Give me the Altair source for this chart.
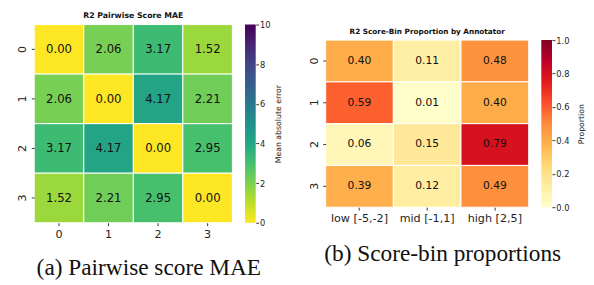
import altair as alt
import pandas as pd

annotators = ["0", "1", "2", "3"]
mae_values = [
    [0.00, 2.06, 3.17, 1.52],
    [2.06, 0.00, 4.17, 2.21],
    [3.17, 4.17, 0.00, 2.95],
    [1.52, 2.21, 2.95, 0.00],
]
bins = ["low [-5,-2]", "mid [-1,1]", "high [2,5]"]
prop_values = [
    [0.40, 0.11, 0.48],
    [0.59, 0.01, 0.40],
    [0.06, 0.15, 0.79],
    [0.39, 0.12, 0.49],
]
mae_ticks = [0, 2, 4, 6, 8, 10]
prop_ticks = [0.0, 0.2, 0.4, 0.6, 0.8, 1.0]
mae_range = [0, 10]
prop_range = [0, 1]

# colormap stops (matplotlib viridis / YlOrRd), low value -> high value
viridis_r = ["#fde725", "#bddf26", "#7ad151", "#44bf70", "#22a884", "#21918c",
             "#2a788e", "#355f8d", "#414487", "#482475", "#440154"]
ylorrd = ["#ffffcc", "#ffeda0", "#fed976", "#feb24c", "#fd8d3c", "#fc4e2a",
          "#e31a1c", "#bd0026", "#800026"]

mae_df = pd.DataFrame(
    [{"row": annotators[i], "col": annotators[j], "mae": mae_values[i][j]}
     for i in range(len(annotators)) for j in range(len(annotators))]
)
prop_df = pd.DataFrame(
    [{"row": annotators[i], "col": bins[j], "prop": prop_values[i][j]}
     for i in range(len(annotators)) for j in range(len(bins))]
)

FONT = "DejaVu Sans"
SERIF = "Liberation Serif"


def stops_domain(rng, n):
    lo, hi = rng
    return [lo + (hi - lo) * k / (n - 1) for k in range(n)]


def heatmap(df, field, xs, w, h, title, caption, caption_x, caption_y, colors, rng,
            text_size, title_size):
    scale = alt.Scale(domain=stops_domain(rng, len(colors)), range=colors,
                      interpolate="rgb")
    x_axis = alt.Axis(labelAngle=0, labelPadding=3)
    y_axis = alt.Axis(labelAngle=270, labelAlign="center",
                      labelBaseline="middle", labelPadding=8.5)
    x_enc = alt.X("col:N", sort=xs, title=None, axis=x_axis)
    y_enc = alt.Y("row:N", sort=annotators, title=None, axis=y_axis)
    rect = alt.Chart(df).mark_rect(stroke="white", strokeWidth=1).encode(
        x=x_enc, y=y_enc,
        color=alt.Color(f"{field}:Q", scale=scale, legend=None),
    )
    text = alt.Chart(df).mark_text(fontSize=text_size, font=FONT, color="#111").encode(
        x=x_enc, y=y_enc,
        text=alt.Text(f"{field}:Q", format=".2f"),
    )
    cap = alt.Chart(pd.DataFrame({"caption": [caption]})).mark_text(
        font=SERIF, fontSize=24, align="center", baseline="alphabetic", color="#111"
    ).encode(x=alt.value(caption_x), y=alt.value(caption_y), text="caption:N")
    return alt.layer(rect, text, cap).properties(
        width=w, height=h,
        title=alt.TitleParams(title, fontSize=title_size, fontWeight="bold", font=FONT,
                              anchor="middle", frame="group", offset=4, color="#111"),
    )


def colorbar(colors, rng, ticks, fmt, label, h, title_pad):
    n = len(colors)
    grad = alt.LinearGradient(
        gradient="linear",
        stops=[alt.GradientStop(color=c, offset=1 - k / (n - 1))
               for k, c in enumerate(colors)][::-1],
        x1=0, x2=0, y1=0, y2=1,
    )
    cb_df = pd.DataFrame({"lo": [rng[0]], "hi": [rng[1]]})
    return alt.Chart(cb_df).mark_rect(color=grad).encode(
        x=alt.value(0), x2=alt.value(11),
        y=alt.Y("lo:Q", scale=alt.Scale(domain=rng, nice=False, zero=False),
                axis=alt.Axis(orient="right", values=ticks, format=fmt, title=label,
                              titleAngle=270, titleBaseline="top", titleAlign="center",
                              titleFont=FONT, titleFontSize=8,
                              titleFontWeight="normal", titleColor="#222",
                              titlePadding=title_pad, labelFontSize=8.5, labelPadding=1,
                              tickSize=3)),
        y2="hi:Q",
    ).properties(width=11, height=h)


left = heatmap(mae_df, "mae", annotators, 204, 204, "R2 Pairwise Score MAE",
               "(a) Pairwise score MAE", 118, 258, viridis_r, mae_range, 12, 8)
cb_left = colorbar(viridis_r, mae_range, mae_ticks, "d", "Mean absolute error", 204, 5)
right = heatmap(prop_df, "prop", bins, 209, 172, "R2 Score-Bin Proportion by Annotator",
                "(b) Score-bin proportions", 120.5, 227, ylorrd, prop_range, 11, 7.5)
cb_right = colorbar(ylorrd, prop_range, prop_ticks, ".1f", "Proportion", 172, 9)

spacer = alt.Chart(pd.DataFrame({"a": [0]})).mark_text(text="").encode(
    x=alt.value(0), y=alt.value(0)
).properties(width=46, height=172)

chart = alt.hconcat(left, cb_left, spacer, right, cb_right,
                    spacing=13, bounds="flush", center=True).resolve_scale(
    color="independent", x="independent", y="independent"
).properties(
    padding={"left": 9, "top": 0, "right": 0, "bottom": 0}
).configure_view(stroke=None).configure_axis(
    domain=False, grid=False, ticks=True, tickSize=3, tickColor="#333",
    labelFont=FONT, labelFontSize=11.5, labelColor="#222",
)

chart.save("out.html", embed_options={"renderer": "svg", "actions": False})
